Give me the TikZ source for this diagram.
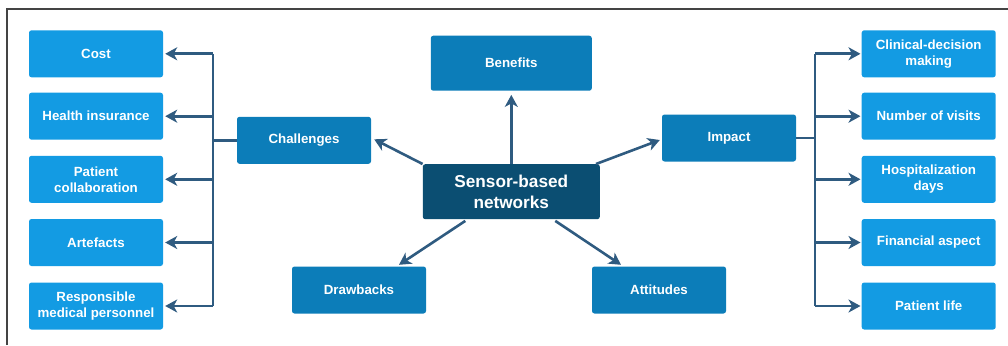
\documentclass[tikz,border=0pt]{standalone}
\usepackage{fontspec}
\setmainfont{Liberation Sans}
\usetikzlibrary{arrows.meta,calc}
\definecolor{lightb}{HTML}{139BE3}
\definecolor{midb}{HTML}{0C7DB9}
\definecolor{darkb}{HTML}{0B4E72}
\definecolor{arr}{HTML}{2F5B80}
\definecolor{frame}{HTML}{444444}
\tikzset{
  base/.style={rounded corners=2.5pt, text=white, font=\bfseries\fontsize{13.3}{16}\selectfont, align=center, inner sep=0pt},
  lbox/.style={base, fill=lightb, minimum width=134pt, minimum height=47pt},
  mbox/.style={base, fill=midb, minimum width=134pt, minimum height=47pt},
  cbox/.style={base, fill=darkb, minimum width=177pt, minimum height=55pt, font=\bfseries\fontsize{17.2}{21}\selectfont},
  conn/.style={draw=arr, line width=2.6pt},
  arrw/.style={conn, -{Stealth[length=12pt,width=13pt,inset=3.5pt]}},
}
\begin{document}
\begin{tikzpicture}[x=1pt,y=-1pt]
\useasboundingbox (0,0) rectangle (1008,345);
\draw[frame, line width=1.4pt] (7,345) -- (7,9) -- (1008,9);

% left column
\node[lbox] (cost) at (96,53.8) {Cost};
\node[lbox] (health) at (96,116.2) {Health insurance};
\node[lbox] (collab) at (96,179.3) {Patient\\collaboration};
\node[lbox] (arte) at (96,242.5) {Artefacts};
\node[lbox] (resp) at (96,306) {Responsible\\medical personnel};

% right column
\node[lbox] (clin) at (928.7,53.8) {Clinical-decision\\making};
\node[lbox] (visits) at (928.7,116.2) {Number of visits};
\node[lbox] (hosp) at (928.7,179.3) {Hospitalization\\days};
\node[lbox] (fin) at (928.7,242.5) {Financial aspect};
\node[lbox] (plife) at (928.7,306) {Patient life};

% middle
\node[mbox] (chal) at (304,140.3) {Challenges};
\node[mbox] (drawb) at (359,290) {Drawbacks};
\node[mbox, minimum width=161pt, minimum height=55pt] (bene) at (511.3,63.2) {Benefits};
\node[cbox] (sens) at (511.3,191.7) {Sensor-based\\networks};
\node[mbox] (att) at (659,290) {Attitudes};
\node[mbox] (imp) at (729,138) {Impact};

% center arrows
\draw[arrw] (sens.north west) -- ($(chal.east)+(3,-1)$);
\draw[arrw] (sens.north) -- ($(bene.south)+(0,4)$);
\draw[arrw] ($(sens.north east)+(-4,0)$) -- ($(imp.west)+(-2,2)$);
\draw[arrw] ($(sens.south)+(-46,1.5)$) -- ($(drawb.north)+(40,-1.5)$);
\draw[arrw] ($(sens.south)+(44,1.5)$) -- ($(att.north)+(-38,-1.5)$);

% left bus
\coordinate (lb) at (213,140.3);
\draw[conn] (chal.west) -- (lb);
\draw[conn] (lb |- cost) -- (lb |- resp);
\foreach \n in {cost,health,collab,arte,resp}
  \draw[arrw] (lb |- \n) -- ($(\n.east)+(2,0)$);

% right bus
\coordinate (rb) at (815,138);
\draw[conn] (imp.east) -- (rb);
\draw[conn] (rb |- clin) -- (rb |- plife);
\foreach \n in {clin,visits,hosp,fin,plife}
  \draw[arrw] (rb |- \n) -- ($(\n.west)+(-1,0)$);
\end{tikzpicture}
\end{document}
